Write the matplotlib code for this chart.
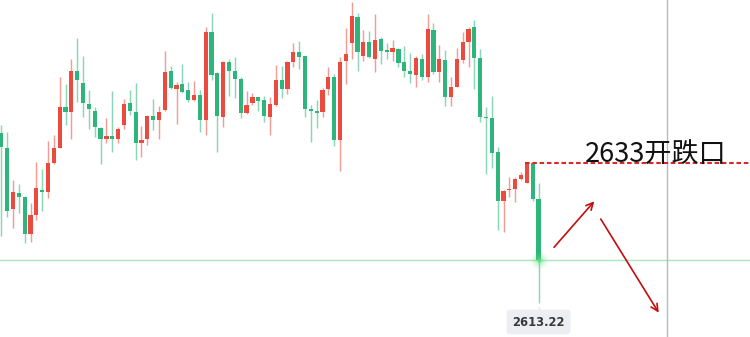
import matplotlib
matplotlib.use("Agg")
import matplotlib.pyplot as plt
import numpy as np

plt.rcParams['font.family'] = ['Noto Sans CJK SC', 'DejaVu Sans']

# ---- data (prices) ----
opens = [2638.96, 2636.04, 2623.55, 2626.86, 2626.11, 2618.55, 2622.40, 2627.41, 2627.12, 2632.88,
         2636.04, 2644.35, 2643.22, 2651.59, 2649.10, 2644.96, 2643.54, 2640.10, 2637.87, 2638.47,
         2637.74, 2640.64, 2645.04, 2643.34, 2637.05, 2637.74, 2642.53, 2641.66, 2643.68, 2651.59,
         2648.00, 2648.89, 2647.74, 2645.71, 2646.78, 2641.66, 2659.55, 2651.24, 2642.32, 2653.35,
         2651.59, 2649.91, 2643.14, 2645.16, 2646.26, 2645.71, 2642.32, 2644.70, 2649.76, 2648.00,
         2653.47, 2655.38, 2654.63, 2643.74, 2643.54, 2643.28, 2648.00, 2650.31, 2637.66, 2653.62,
         2657.32, 2662.47, 2654.69, 2657.53, 2654.02, 2658.07, 2655.84, 2655.38, 2656.11, 2653.35,
         2651.59, 2650.78, 2653.96, 2650.43, 2659.90, 2651.45, 2653.82, 2646.38, 2648.41, 2653.82,
         2657.53, 2660.57, 2654.16, 2642.32, 2642.06, 2635.17, 2625.24, 2627.47, 2627.61, 2629.64,
         2628.82, 2632.88, 2625.64]
highs = [2640.64, 2639.16, 2629.49, 2628.68, 2626.31, 2624.77, 2633.08, 2631.72, 2637.46, 2638.62,
         2650.43, 2648.95, 2654.02, 2658.28, 2654.69, 2647.74, 2644.35, 2640.30, 2642.00, 2647.60,
         2640.30, 2645.85, 2647.74, 2649.10, 2640.50, 2642.61, 2645.91, 2644.49, 2655.64, 2652.60,
         2649.30, 2653.01, 2649.42, 2649.62, 2647.74, 2660.57, 2663.28, 2651.39, 2653.68, 2653.96,
         2654.49, 2650.31, 2647.60, 2647.19, 2646.38, 2646.58, 2646.38, 2652.80, 2652.60, 2653.68,
         2657.32, 2657.67, 2654.69, 2644.64, 2645.71, 2648.08, 2652.34, 2650.92, 2654.37, 2660.37,
         2665.51, 2663.28, 2659.90, 2659.70, 2663.14, 2658.42, 2657.20, 2657.87, 2656.31, 2656.66,
         2655.18, 2654.63, 2654.97, 2663.14, 2661.26, 2656.86, 2655.84, 2650.31, 2656.19, 2659.43,
         2660.57, 2661.93, 2655.99, 2644.35, 2646.52, 2636.24, 2627.47, 2630.04, 2630.04, 2631.12,
         2633.08, 2633.00, 2628.82]
lows = [2618.14, 2622.05, 2619.83, 2622.74, 2616.66, 2616.87, 2621.39, 2623.21, 2625.91, 2632.68,
        2635.92, 2640.64, 2637.74, 2645.37, 2642.32, 2639.83, 2638.15, 2632.74, 2637.05, 2635.23,
        2637.05, 2639.83, 2642.61, 2633.55, 2634.10, 2636.59, 2639.63, 2637.80, 2643.54, 2647.94,
        2640.78, 2647.19, 2645.37, 2645.51, 2639.28, 2638.62, 2649.76, 2635.23, 2640.30, 2646.52,
        2646.18, 2642.12, 2642.87, 2644.64, 2643.48, 2641.31, 2638.62, 2644.49, 2646.18, 2646.93,
        2652.46, 2651.93, 2642.20, 2637.14, 2639.97, 2642.20, 2646.72, 2636.45, 2631.32, 2648.89,
        2654.02, 2651.65, 2653.62, 2654.16, 2651.32, 2652.95, 2654.02, 2653.68, 2652.46, 2650.31,
        2649.22, 2648.28, 2649.76, 2649.42, 2650.98, 2649.42, 2644.49, 2644.55, 2648.28, 2653.15,
        2652.34, 2647.88, 2641.31, 2630.65, 2631.99, 2619.36, 2619.02, 2626.11, 2625.10, 2629.49,
        2628.82, 2625.30, 2604.62]
closes = [2636.24, 2623.21, 2627.12, 2626.05, 2618.55, 2622.40, 2627.81, 2627.12, 2632.88, 2636.04,
          2644.35, 2643.28, 2651.59, 2649.76, 2645.04, 2643.82, 2640.18, 2637.74, 2638.47, 2637.80,
          2639.77, 2644.84, 2643.42, 2637.05, 2637.60, 2642.47, 2641.66, 2643.34, 2651.39, 2648.14,
          2648.75, 2647.39, 2645.71, 2646.78, 2641.66, 2659.55, 2650.78, 2642.47, 2653.35, 2651.65,
          2649.91, 2643.01, 2644.64, 2646.38, 2645.57, 2642.47, 2644.84, 2649.76, 2648.00, 2653.41,
          2655.38, 2654.49, 2643.89, 2643.54, 2643.14, 2647.74, 2650.31, 2637.66, 2653.47, 2654.97,
          2662.74, 2655.38, 2657.53, 2654.37, 2657.87, 2655.70, 2655.38, 2656.19, 2653.27, 2651.65,
          2650.98, 2654.16, 2650.43, 2660.04, 2651.45, 2653.96, 2646.26, 2648.41, 2654.02, 2657.53,
          2660.16, 2654.16, 2642.32, 2642.06, 2635.03, 2625.24, 2627.26, 2627.73, 2629.70, 2630.45,
          2633.00, 2625.64, 2613.22]

gap_level = 2633.00
gap_label = "2633开跌口"
last_price = 2613.22
last_label = "2613.22"

# ---- style ----
UP = '#ea4b3e'     # rising candles (red)
DOWN = '#2db57b'   # falling candles (green)

fig = plt.figure(figsize=(7.5, 3.37), dpi=100)
ax = fig.add_axes([0, 0, 1, 1])
ax.axis('off')

n = len(opens)
x = np.arange(n)
o = np.array(opens); h = np.array(highs); l = np.array(lows); c = np.array(closes)
up = c > o
cols = np.where(up, UP, DOWN)

# wicks
ax.vlines(x, l, h, colors=cols, linewidth=1.05, alpha=0.55, zorder=2)
# bodies
bottom = np.minimum(o, c)
height = np.maximum(np.abs(c - o), 0.28)
ax.bar(x, height, bottom=bottom, width=0.72, color=cols, linewidth=0, zorder=3)

# axes limits so that candles sit where they do in the reference
xmin, xmax = -0.223, 128.2
ymin, ymax = 2597.67, 2665.98
ax.set_xlim(xmin, xmax)
ax.set_ylim(ymin, ymax)

# horizontal crosshair (last price) and vertical gray line
ax.axhline(last_price, color='#a9e6c0', linewidth=1.0, zorder=1)
ax.axvline(114, color='#b5bac3', linewidth=1.0, zorder=1)

# glow at last price
for s, a in [(160, 0.08), (90, 0.12), (40, 0.2), (12, 0.6)]:
    ax.scatter([n - 1], [last_price], s=s, color='#56e07a', alpha=a, linewidths=0, zorder=4)

# red dashed gap line
ax.hlines(gap_level, n - 3 - 0.36, xmax, colors='#d62a2a', linewidth=1.5,
          linestyles=(0, (2.2, 1.3)), zorder=5)
ax.text(100.0, gap_level + 0.15, gap_label, fontsize=19.5, color='#111111',
        ha='left', va='baseline', zorder=6)

# arrows
arrow_kw = dict(arrowstyle='->,head_length=0.5,head_width=0.25', color='#c40d0d', lw=1.2,
                shrinkA=0, shrinkB=0)
ax.annotate('', xy=(101.54, 2625.18), xytext=(94.64, 2615.85), arrowprops=arrow_kw, zorder=6)
ax.annotate('', xy=(112.57, 2602.60), xytext=(102.64, 2621.59), arrowprops=arrow_kw, zorder=6)

# price label at bottom
ax.scatter([n - 1], [2603.1], marker='^', s=36, color='#eceef2', linewidths=0, zorder=6)
ax.text(n - 1, 2600.71, last_label, fontsize=8.3, color='#3a3a3a', ha='center', va='center',
        family=['DejaVu Sans'], fontweight='semibold',
        bbox=dict(boxstyle='round,pad=0.5,rounding_size=0.3', fc='#eceef2', ec='none'), zorder=7)

fig.savefig('out.png', dpi=100)
